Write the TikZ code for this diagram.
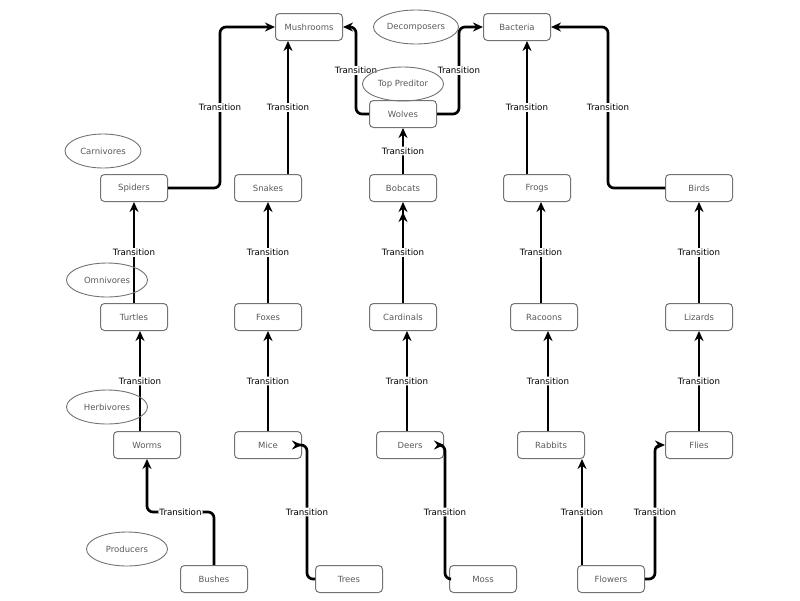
\documentclass[tikz,border=0pt]{standalone}
\usepackage{fontspec}
\setmainfont{DejaVu Sans}
\usetikzlibrary{arrows.meta,shapes.geometric}

\definecolor{borde}{gray}{0.45}
\definecolor{texto}{gray}{0.35}

\tikzset{
	caja/.style={draw=borde, text=texto, rounded corners=4pt, line width=1pt,
		minimum width=67pt, minimum height=27pt, font=\fontsize{8.5}{10}\selectfont},
	grupo/.style={draw=borde, text=texto, ellipse, line width=0.9pt, inner sep=1pt,
		minimum width=81pt, minimum height=34pt, font=\fontsize{8.5}{10}\selectfont},
	flecha/.style={line width=2.7pt, rounded corners=6pt, -{Stealth[length=10pt,width=9pt]}},
	etiq/.style={fill=white, inner sep=1pt, font=\fontsize{8.7}{10}\selectfont}
}

\begin{document}
\begin{tikzpicture}[x=1pt, y=-1pt]
			\useasboundingbox (0,0) rectangle (800,600);
			
			% Especies
			\foreach \nombre/\texto/\x/\y in {
				mushrooms/Mushrooms/309/27, bacteria/Bacteria/517/27,
				wolves/Wolves/403/114,
				spiders/Spiders/134/188, snakes/Snakes/268/188, bobcats/Bobcats/403/188,
				frogs/Frogs/537/188, birds/Birds/699/188,
				turtles/Turtles/134/317, foxes/Foxes/268/317, cardinals/Cardinals/403/317,
				racoons/Racoons/544/317, lizards/Lizards/699/317,
				worms/Worms/147/445, mice/Mice/268/445, deers/Deers/410/445,
				rabbits/Rabbits/551/445, flies/Flies/699/445,
				bushes/Bushes/214/579, trees/Trees/349/579, moss/Moss/483/579,
				flowers/Flowers/611/579} {
				\node[caja] (\nombre) at (\x,\y) {\texto};
			}
			
			% Transiciones rectas
			\foreach \de/\a/\x in {
				turtles/spiders/134, foxes/snakes/268, racoons/frogs/541, lizards/birds/699,
				worms/turtles/140, mice/foxes/268, deers/cardinals/407, rabbits/racoons/548,
				flies/lizards/699, snakes/mushrooms/288, frogs/bacteria/527,
				bobcats/wolves/403, flowers/rabbits/582} {
				\draw[flecha] (\de.north -| \x,0) -- node[etiq] {Transition} (\a.south -| \x,0);
			}
			\draw[line width=2.7pt, -{Stealth[length=10pt,width=9pt] Stealth[length=10pt,width=9pt]}]
				(cardinals.north) -- node[etiq] {Transition} (bobcats.south);
			
			% Transiciones con codo
			\draw[flecha] (spiders.east) -- ++(52,0) |- node[etiq, pos=0.25] {Transition} (mushrooms.west);
			\draw[flecha] (wolves.west) -- ++(-13,0) |- node[etiq, pos=0.25] {Transition} (mushrooms.east);
			\draw[flecha] (wolves.east) -- ++(22,0) |- node[etiq, pos=0.25] {Transition} (bacteria.west);
			\draw[flecha] (birds.west) -- ++(-57,0) |- node[etiq, pos=0.25] {Transition} (bacteria.east);
			\draw[flecha] (bushes.north) -- ++(0,-53) -| node[etiq, pos=0.25] {Transition} (worms.south);
			\draw[flecha] (trees.west) -- ++(-8,0) |- node[etiq, pos=0.25] {Transition} (mice.east);
			\draw[flecha] (moss.west) -- ++(-4,0) |- node[etiq, pos=0.25] {Transition} (deers.east);
			\draw[flecha] (flowers.east) -- ++(10,0) |- node[etiq, pos=0.25] {Transition} (flies.west);
			
			% Niveles tróficos
			\node[grupo] (decomposers) at (416,27) {Decomposers};
			\node[grupo] (toppred) at (403,84) {Top Preditor};
			\node[grupo, minimum width=76pt] (carnivores) at (103,151) {Carnivores};
			\node[grupo] (omnivores) at (107,280) {Omnivores};
			\node[grupo] (herbivores) at (107,407) {Herbivores};
			\node[grupo] (producers) at (127,549) {Producers};
		\end{tikzpicture}
\end{document}
